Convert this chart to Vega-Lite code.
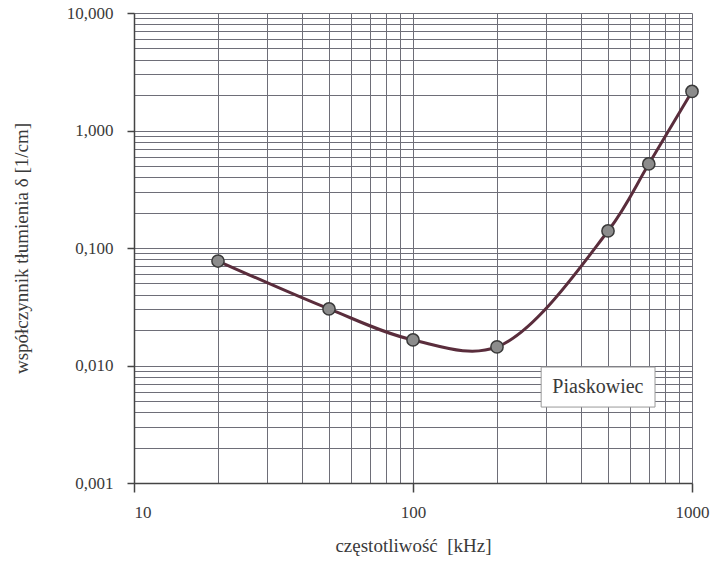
{
  "$schema": "https://vega.github.io/schema/vega-lite/v6.json",
  "width": 558,
  "height": 470,
  "autosize": {"type": "none"},
  "padding": {"left": 134, "top": 13, "right": 21, "bottom": 89},
  "background": "white",
  "config": {
    "view": {"stroke": null},
    "font": "Liberation Serif",
    "axis": {
      "labelFont": "Liberation Serif",
      "titleFont": "Liberation Serif",
      "labelColor": "#3a3a3a",
      "titleColor": "#3a3a3a",
      "titleFontWeight": "normal"
    }
  },
  "datasets": {
    "pts": [
      {"f": 20, "d": 0.0775},
      {"f": 50, "d": 0.0303},
      {"f": 100, "d": 0.0165},
      {"f": 200, "d": 0.0144},
      {"f": 500, "d": 0.1396},
      {"f": 700, "d": 0.519},
      {"f": 1000, "d": 2.15}
    ],
    "lab": [
      {"x1": 288, "x2": 737, "y1": 0.0097, "y2": 0.00443, "xc": 460, "yc": 0.00656, "t": "Piaskowiec"}
    ]
  },
  "resolve": {"axis": {"x": "independent", "y": "independent"}},
  "layer": [
    {
      "data": {"name": "pts"},
      "mark": {"type": "line", "interpolate": "catmull-rom", "stroke": "#5a2d3c", "strokeWidth": 3},
      "encoding": {
        "x": {
          "field": "f", "type": "quantitative",
          "scale": {"type": "log", "domain": [10, 1000], "nice": false},
          "axis": {
            "orient": "bottom",
            "values": [10, 20, 30, 40, 50, 60, 70, 80, 90, 100, 200, 300, 400, 500, 600, 700, 800, 900, 1000],
            "grid": true, "gridColor": "#6e6e78", "gridWidth": 1, "gridOpacity": 1,
            "labels": false, "ticks": false, "domain": false, "title": null
          }
        },
        "y": {
          "field": "d", "type": "quantitative",
          "scale": {"type": "log", "domain": [0.001, 10], "nice": false},
          "axis": {
            "orient": "left",
            "values": [0.001, 0.002, 0.003, 0.004, 0.005, 0.006, 0.007, 0.008, 0.009, 0.01, 0.02, 0.03, 0.04, 0.05, 0.06, 0.07, 0.08, 0.09, 0.1, 0.2, 0.3, 0.4, 0.5, 0.6, 0.7, 0.8, 0.9, 1, 2, 3, 4, 5, 6, 7, 8, 9, 10],
            "grid": true, "gridColor": "#6e6e78", "gridWidth": 1, "gridOpacity": 1,
            "labels": false, "ticks": false, "domain": false, "title": null
          }
        }
      }
    },
    {
      "data": {"name": "lab"},
      "mark": {"type": "rect", "fill": "white", "stroke": "#9a9a9a", "strokeWidth": 1},
      "encoding": {
        "x": {"field": "x1", "type": "quantitative", "axis": null},
        "x2": {"field": "x2"},
        "y": {"field": "y1", "type": "quantitative", "axis": null},
        "y2": {"field": "y2"}
      }
    },
    {
      "data": {"name": "lab"},
      "mark": {"type": "text", "font": "Liberation Serif", "fontSize": 20, "color": "#3a3a3a", "align": "center", "baseline": "middle"},
      "encoding": {
        "x": {"field": "xc", "type": "quantitative", "axis": null},
        "y": {"field": "yc", "type": "quantitative", "axis": null},
        "text": {"field": "t"}
      }
    },
    {
      "data": {"name": "pts"},
      "mark": {"type": "point", "shape": "circle", "filled": true, "size": 150, "fill": "#8c8c8c", "stroke": "#3a3a3a", "strokeWidth": 1.5, "opacity": 1},
      "encoding": {
        "x": {
          "field": "f", "type": "quantitative",
          "axis": {
            "orient": "bottom",
            "values": [10, 100, 1000],
            "labelExpr": "format(datum.value, 'd')",
            "labelFlush": false,
            "labelAlign": {"condition": {"test": "datum.value == 10", "value": "left"}, "value": "center"},
            "grid": false,
            "domainColor": "#444", "domainWidth": 1.5,
            "tickColor": "#444", "tickSize": 9, "tickWidth": 1.5,
            "labelFontSize": 17, "labelPadding": 12,
            "title": "częstotliwość\u00a0 [kHz]", "titleFontSize": 19, "titlePadding": 16
          }
        },
        "y": {
          "field": "d", "type": "quantitative",
          "axis": {
            "orient": "left",
            "values": [0.001, 0.01, 0.1, 1, 10],
            "labelExpr": "replace(format(datum.value, '.3f'), '.', ',')",
            "grid": false,
            "domainColor": "#444", "domainWidth": 1.5,
            "tickColor": "#444", "tickSize": 7, "tickWidth": 1.5,
            "labelFontSize": 17, "labelPadding": 14,
            "title": "współczynnik tłumienia δ [1/cm]", "titleFontSize": 19, "titlePadding": 35
          }
        }
      }
    }
  ]
}
